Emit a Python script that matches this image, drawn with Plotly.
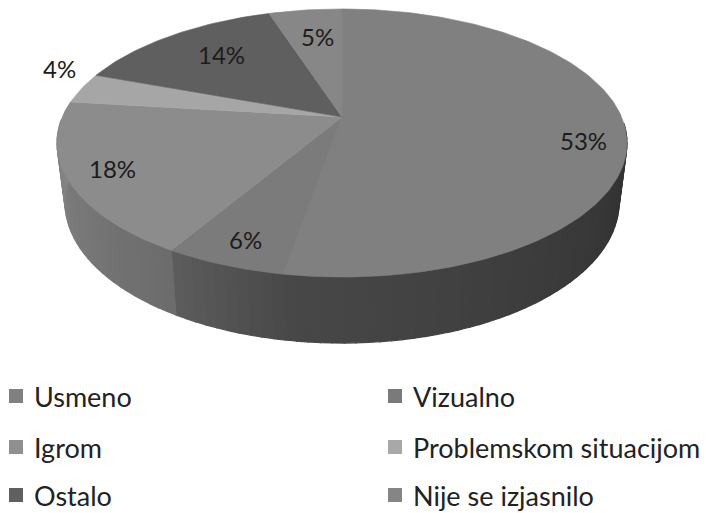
import numpy as np
import plotly.graph_objects as go

categories = ["Usmeno", "Vizualno", "Igrom", "Problemskom situacijom", "Ostalo", "Nije se izjasnilo"]
values = [52.7, 5.8, 18.4, 3.7, 14.4, 5.0]
labels = ["53%", "6%", "18%", "4%", "14%", "5%"]
top_colors = ["#808080", "#7b7b7b", "#8c8c8c", "#a6a6a6", "#5f5f5f", "#878787"]
legend_colors = ["#808080", "#7a7a7a", "#8f8f8f", "#a8a8a8", "#606060", "#858585"]
side_start = ["#2f2f2f", "#4a4a4a", "#6c6c6c", "#8a8a8a", "#4a4a4a", "#6a6a6a"]
side_end = ["#484848", "#5c5c5c", "#858585", "#8a8a8a", "#4a4a4a", "#6a6a6a"]
label_pos = [(583, 140), (245, 239), (112, 168), (59, 68), (221, 54), (317, 36)]
legend_pos = [(16, 396), (395, 396), (16, 447), (395, 447), (16, 495), (395, 495)]

CX, CY, A, B, K = 342, 117, 279.6, 129, 0.194
SX, SY, D = 0.972, 1.05, 58
FONT = "Lato"


def top_pt(theta):
    u, v = np.sin(theta), np.cos(theta)
    den = 1 + K * v
    return CX + A * u / den, CY - B * v / den


def bottom_pt(theta):
    x, y = top_pt(theta)
    return CX + (x - CX) * SX, CY + (y - CY) * SY + D


def hex_mix(a, b, t):
    ca = [int(a[i:i + 2], 16) for i in (1, 3, 5)]
    cb = [int(b[i:i + 2], 16) for i in (1, 3, 5)]
    return "rgb(" + ",".join(str(round(p + (q - p) * t)) for p, q in zip(ca, cb)) + ")"


fig = go.Figure()
edges = np.cumsum([0] + values) / sum(values) * 2 * np.pi

# side wall, drawn as narrow shaded strips, clockwise from the top of the pie
for i in range(len(values)):
    a0, a1 = edges[i], edges[i + 1]
    n = max(2, int((a1 - a0) / 0.035))
    steps = np.linspace(a0, a1, n + 1)
    # shade runs across the visible part of the wall only
    vis = [t for t in steps if np.cos(t) < -0.02]
    if len(vis) < 2:
        continue
    for j in range(len(vis) - 1):
        t0, t1 = vis[j], vis[j + 1]
        frac = j / max(1, len(vis) - 2)
        col = hex_mix(side_start[i], side_end[i], frac)
        p0, p1 = top_pt(t0), top_pt(t1)
        q0, q1 = bottom_pt(t0), bottom_pt(t1)
        fig.add_trace(go.Scatter(
            x=[p0[0], p1[0], q1[0], q0[0], p0[0]],
            y=[p0[1], p1[1], q1[1], q0[1], p0[1]],
            mode="lines", fill="toself", fillcolor=col,
            line=dict(color=col, width=1.2), hoverinfo="skip", showlegend=False))

# left part of the wall that lies behind the pie's widest point
for i in [2]:
    ts = np.linspace(edges[i + 1] - 0.6, edges[i + 1], 30)
    ts = ts[np.cos(ts) >= -0.05]
    if len(ts) > 1:
        px, py = top_pt(ts)
        qx, qy = bottom_pt(ts)
        fig.add_trace(go.Scatter(
            x=np.r_[px, qx[::-1], px[0]], y=np.r_[py, qy[::-1], py[0]],
            mode="lines", fill="toself", fillcolor=side_end[i],
            line=dict(color=side_end[i], width=0.6), hoverinfo="skip", showlegend=False))

# top face
for i in range(len(values)):
    ts = np.linspace(edges[i], edges[i + 1], max(4, int((edges[i + 1] - edges[i]) / 0.02)))
    px, py = top_pt(ts)
    fig.add_trace(go.Scatter(
        x=np.r_[CX, px, CX], y=np.r_[CY, py, CY],
        mode="lines", fill="toself", fillcolor=top_colors[i],
        line=dict(color=top_colors[i], width=0.6),
        name=categories[i], text=labels[i], hoverinfo="name+text", showlegend=False))

# legend swatches
fig.add_trace(go.Scatter(
    x=[p[0] for p in legend_pos], y=[p[1] for p in legend_pos],
    mode="markers", marker=dict(symbol="square", size=14, color=legend_colors, line=dict(width=0)),
    hoverinfo="skip", showlegend=False))

for i, name in enumerate(categories):
    fig.add_annotation(x=legend_pos[i][0] + 16, y=legend_pos[i][1], text=name, showarrow=False,
                       xanchor="left", yanchor="middle", font=dict(family=FONT, size=27, color="#222222"))
    fig.add_annotation(x=label_pos[i][0], y=label_pos[i][1], text=labels[i], showarrow=False,
                       xanchor="center", yanchor="middle", font=dict(family=FONT, size=24, color="#1c1c1c"))

fig.update_layout(
    width=706, height=513, margin=dict(l=0, r=0, t=0, b=0),
    paper_bgcolor="white", plot_bgcolor="white", showlegend=False,
    xaxis=dict(range=[0, 706], visible=False, fixedrange=True),
    yaxis=dict(range=[513, 0], visible=False, fixedrange=True),
)
fig.write_html("out.html", config={"displayModeBar": False},
               post_script="document.body.style.margin='0';document.documentElement.style.overflow='hidden';")
